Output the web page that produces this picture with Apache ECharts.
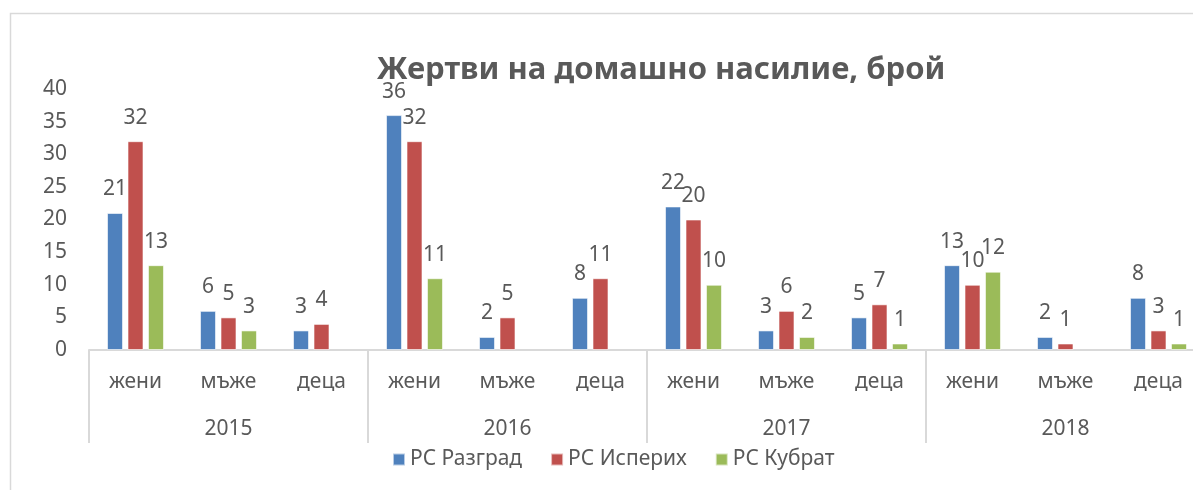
<!DOCTYPE html>
<html>
<head>
<meta charset="utf-8">
<script src="https://cdn.jsdelivr.net/npm/echarts@6/dist/echarts.min.js"></script>
<style>
  html, body { margin: 0; padding: 0; background: #fff; }
  #chart { width: 1193px; height: 490px; }
</style>
</head>
<body>
<div id="chart"></div>
<script>
// категории и години
const categories = ['жени', 'мъже', 'деца', 'жени', 'мъже', 'деца', 'жени', 'мъже', 'деца', 'жени', 'мъже', 'деца']
const years = ['2015', '2016', '2017', '2018']
const seriesNames = ['РС Разград', 'РС Исперих', 'РС Кубрат']
// стойности (липсващите са null)
const razgrad = [21, 6, 3, 36, 2, 8, 22, 3, 5, 13, 2, 8]
const isperih = [32, 5, 4, 32, 5, 11, 20, 6, 7, 10, 1, 3]
const kubrat = [13, 3, null, 11, null, null, 10, 2, 1, 12, null, 1]

const font = 'Noto Sans'
const textColor = '#595959'
const colors = ['#4f81bd', '#c0504d', '#9bbb59']

const chart = echarts.init(document.getElementById('chart'))

let makeSeries = function (name, data, color) {
  return {
    name: name,
    type: 'bar',
    data: data,
    barWidth: 16,
    barGap: '28%',
    itemStyle: { color: color, borderColor: 'rgba(255,255,255,0.6)', borderWidth: 1 },
    label: {
      show: true,
      position: 'top',
      distance: 13,
      color: textColor,
      fontFamily: font,
      fontSize: 21
    }
  }
}

const option = {
  animation: false,
  color: colors,
  title: {
    text: 'Жертви на домашно насилие, брой',
    left: 656,
    textAlign: 'center',
    top: 50,
    textStyle: { color: textColor, fontFamily: font, fontSize: 31, fontWeight: 'bold' }
  },
  graphic: [{
    type: 'rect',
    left: 8,
    top: 11,
    shape: { width: 1400, height: 700 },
    style: { fill: 'none', stroke: '#d9d9d9', lineWidth: 1.5 },
    silent: true
  }],
  legend: {
    data: seriesNames,
    left: 387,
    top: 444,
    itemWidth: 12,
    itemHeight: 12,
    itemGap: 28,
    icon: 'rect',
    textStyle: { color: textColor, fontFamily: font, fontSize: 21 }
  },
  grid: {
    left: 89,
    top: 89,
    width: 1116,
    height: 261,
    outerBoundsMode: 'none'
  },
  xAxis: [
    {
      type: 'category',
      data: categories,
      axisLine: { show: true, lineStyle: { color: '#d9d9d9', width: 2 } },
      axisTick: { show: false },
      axisLabel: { color: textColor, fontFamily: font, fontSize: 21, margin: 22, interval: 0 }
    },
    {
      type: 'category',
      data: years,
      position: 'bottom',
      axisLine: { show: false },
      axisTick: { show: true, length: 93, inside: false, lineStyle: { color: '#d9d9d9', width: 2 } },
      axisLabel: { color: textColor, fontFamily: font, fontSize: 21, margin: 69, interval: 0 }
    }
  ],
  yAxis: {
    type: 'value',
    min: 0,
    max: 40,
    interval: 5,
    axisLine: { show: false },
    axisTick: { show: false },
    splitLine: { show: false },
    axisLabel: { color: textColor, fontFamily: font, fontSize: 21, margin: 22 }
  },
  series: [
    makeSeries(seriesNames[0], razgrad, colors[0]),
    makeSeries(seriesNames[1], isperih, colors[1]),
    makeSeries(seriesNames[2], kubrat, colors[2])
  ]
}
chart.setOption(option)
</script>
</body>
</html>
